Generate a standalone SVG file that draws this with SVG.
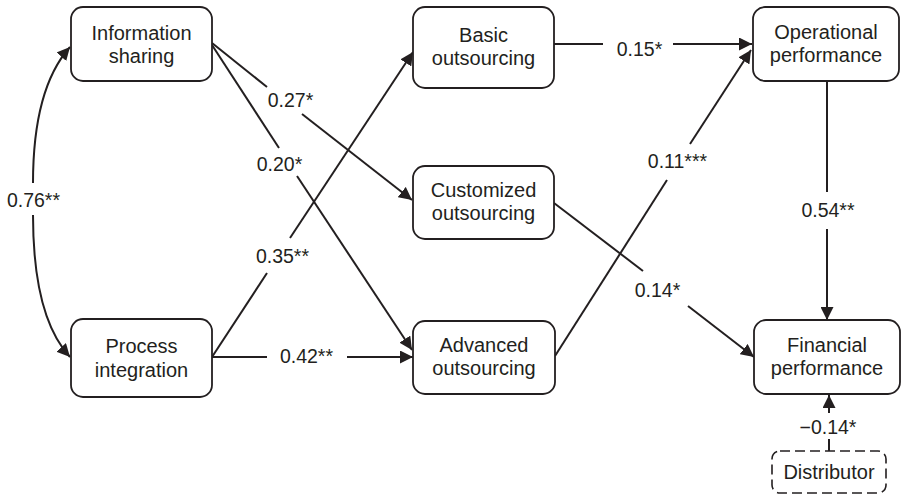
<svg xmlns="http://www.w3.org/2000/svg" width="902" height="496" viewBox="0 0 902 496">
  <style>
    .box { fill: #ffffff; stroke: #231f20; stroke-width: 1.8; }
    .dbox { fill: #ffffff; stroke: #231f20; stroke-width: 1.6; stroke-dasharray: 10 5; }
    .nt { font-family: "Liberation Sans", Arial, sans-serif; font-size: 20px; fill: #231f20; text-anchor: middle; }
    .lt { font-family: "Liberation Sans", Arial, sans-serif; font-size: 19.5px; fill: #231f20; text-anchor: middle; }
    .ln { fill: none; stroke: #231f20; stroke-width: 2; }
  </style>
  <defs>
    <marker id="ah" markerUnits="userSpaceOnUse" markerWidth="14" markerHeight="13" refX="13" refY="6.5" orient="auto">
      <path d="M0,0 L13,6.5 L0,13 z" fill="#231f20"/>
    </marker>
  </defs>
  <rect width="902" height="496" fill="#ffffff"/>

  <g id="connectors">
    <path class="ln" d="M33,183 C33,120 45,75 70,47" marker-end="url(#ah)"/>
    <path class="ln" d="M33,215 C33,280 45,330 70,357" marker-end="url(#ah)"/>
    <path class="ln" d="M212,43 L267,87"/>
    <path class="ln" d="M302,114 L412,200" marker-end="url(#ah)"/>
    <path class="ln" d="M212,45 L279,148"/>
    <path class="ln" d="M297,176 L412,350" marker-end="url(#ah)"/>
    <path class="ln" d="M212,357 L267,273"/>
    <path class="ln" d="M290,238 L413,52" marker-end="url(#ah)"/>
    <path class="ln" d="M212,357 L267,357"/>
    <path class="ln" d="M347,357 L413,357" marker-end="url(#ah)"/>
    <path class="ln" d="M554,44 L603,44"/>
    <path class="ln" d="M673,44 L752,44" marker-end="url(#ah)"/>
    <path class="ln" d="M555,356 L667,180"/>
    <path class="ln" d="M690,144 L751,50" marker-end="url(#ah)"/>
    <path class="ln" d="M554,203 L643,271"/>
    <path class="ln" d="M688,306 L754,357" marker-end="url(#ah)"/>
    <path class="ln" d="M827,81 L827,192"/>
    <path class="ln" d="M827,229 L827,320" marker-end="url(#ah)"/>
    <path class="ln" d="M829,451 L829,439"/>
    <path class="ln" d="M829,413 L829,395" marker-end="url(#ah)"/>

    <text class="lt" x="33.5" y="207">0.76**</text>
    <text class="lt" x="290.5" y="107">0.27*</text>
    <text class="lt" x="279.5" y="171">0.20*</text>
    <text class="lt" x="282.5" y="263">0.35**</text>
    <text class="lt" x="306.5" y="363">0.42**</text>
    <text class="lt" x="639.5" y="56">0.15*</text>
    <text class="lt" x="677.5" y="168">0.11***</text>
    <text class="lt" x="657.5" y="297">0.14*</text>
    <text class="lt" x="828" y="217">0.54**</text>
    <text class="lt" x="828" y="434">−0.14*</text>
  </g>

  <g id="information-sharing">
    <rect class="box" x="71" y="7" width="141" height="74" rx="12"/>
    <text class="nt" x="141.5" y="40">Information</text>
    <text class="nt" x="141.5" y="63">sharing</text>
  </g>
  <g id="process-integration">
    <rect class="box" x="71" y="319" width="141" height="78" rx="12"/>
    <text class="nt" x="141.5" y="353">Process</text>
    <text class="nt" x="141.5" y="377">integration</text>
  </g>
  <g id="basic-outsourcing">
    <rect class="box" x="413" y="7" width="141" height="81" rx="12"/>
    <text class="nt" x="483.5" y="42">Basic</text>
    <text class="nt" x="483.5" y="65">outsourcing</text>
  </g>
  <g id="customized-outsourcing">
    <rect class="box" x="413" y="166" width="141" height="73" rx="12"/>
    <text class="nt" x="483.5" y="197">Customized</text>
    <text class="nt" x="483.5" y="220">outsourcing</text>
  </g>
  <g id="advanced-outsourcing">
    <rect class="box" x="413" y="321" width="142" height="73" rx="12"/>
    <text class="nt" x="484" y="352">Advanced</text>
    <text class="nt" x="484" y="375">outsourcing</text>
  </g>
  <g id="operational-performance">
    <rect class="box" x="753" y="7" width="146" height="74" rx="12"/>
    <text class="nt" x="826" y="39">Operational</text>
    <text class="nt" x="826" y="62">performance</text>
  </g>
  <g id="financial-performance">
    <rect class="box" x="754" y="320" width="146" height="74" rx="12"/>
    <text class="nt" x="827" y="352">Financial</text>
    <text class="nt" x="827" y="375">performance</text>
  </g>
  <g id="distributor">
    <rect class="dbox" x="772" y="451" width="114" height="42" rx="8"/>
    <text class="nt" x="829" y="479">Distributor</text>
  </g>
</svg>
